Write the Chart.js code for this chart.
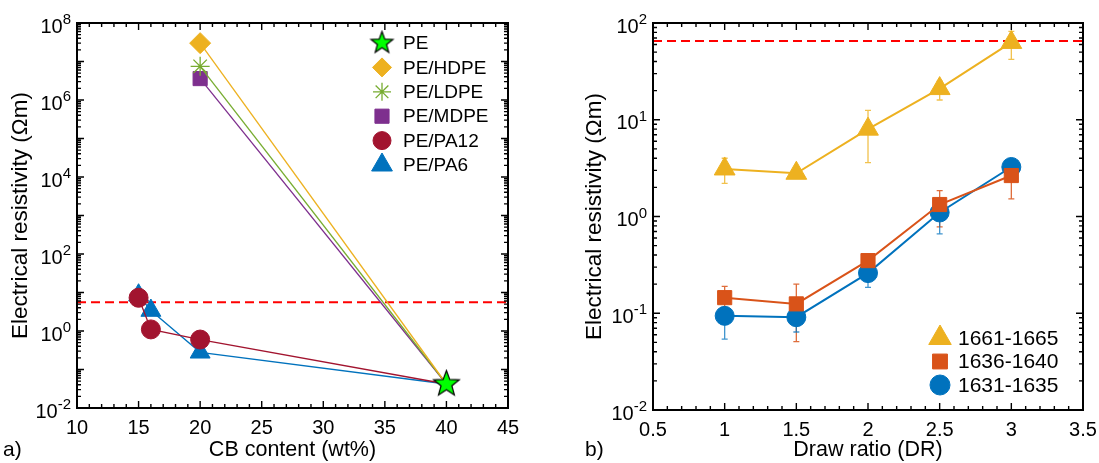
<!DOCTYPE html>
<html>
<head>
<meta charset="utf-8">
<script src="https://cdn.jsdelivr.net/npm/chart.js@4.4.1/dist/chart.umd.min.js"></script>
<style>
body{margin:0;background:#fff;width:1099px;height:463px;position:relative;overflow:hidden;font-family:"Liberation Sans",Arial,sans-serif}
#wrapA{position:absolute;left:0;top:0;width:549px;height:463px}
#wrapB{position:absolute;left:549px;top:0;width:550px;height:463px}
.tag{position:absolute;font-size:21px;color:#000}
</style>
</head>
<body>
<div id="wrapA"><canvas id="chartA" width="549" height="463"></canvas></div>
<div id="wrapB"><canvas id="chartB" width="550" height="463"></canvas></div>
<div class="tag" style="left:3px;top:437px">a)</div>
<div class="tag" style="left:585px;top:437px">b)</div>
<script>
// ---- panel a) data: CB content (wt%) vs resistivity
var peX = [40], peY = [0.042];
var hdpeX = [20], hdpeY = [3.0e7];
var ldpeX = [20], ldpeY = [7.5e6];
var mdpeX = [20], mdpeY = [3.6e6];
var pa12X = [15, 16, 20], pa12Y = [7.3, 1.1, 0.6];
var pa6X = [15, 16, 20], pa6Y = [8.5, 3.4, 0.28];
var limitA = 5.6;

// ---- panel b) data: draw ratio vs resistivity
var drawRatio = [1, 1.5, 2, 2.5, 3];
var s1661 = [3.1, 2.8, 8.0, 21, 63];
var s1661Lo = [2.2, 2.65, 3.6, 16, 42];
var s1661Hi = [4.0, 2.95, 12.5, 25, 82];
var s1636 = [0.145, 0.125, 0.35, 1.33, 2.65];
var s1636Lo = [0.093, 0.051, 0.31, 0.78, 1.52];
var s1636Hi = [0.19, 0.2, 0.39, 1.85, 3.7];
var s1631 = [0.094, 0.091, 0.26, 1.1, 3.25];
var s1631Lo = [0.054, 0.064, 0.185, 0.66, 2.9];
var s1631Hi = [0.11, 0.1, 0.3, 1.45, 3.8];
var limitB = 65;

var FONT = '"Liberation Sans", Arial, sans-serif';
var YELLOW = '#EDB120', ORANGE = '#D95319', BLUE = '#0072BD',
    PURPLE = '#7E2F8E', GREEN = '#77AC30', RED = '#A2142F';

function makeStar(r) {
    var c = document.createElement('canvas');
    var s = Math.ceil(2 * r + 4);
    c.width = s; c.height = s;
    var g = c.getContext('2d');
    g.beginPath();
    for (var i = 0; i < 10; i++) {
        var rr = i % 2 ? r * 0.42 : r;
        var ang = -Math.PI / 2 + i * Math.PI / 5;
        var px = s / 2 + rr * Math.cos(ang), py = s / 2 + rr * Math.sin(ang);
        if (i) g.lineTo(px, py); else g.moveTo(px, py);
    }
    g.closePath();
    g.fillStyle = '#00FF00';
    g.fill();
    g.lineWidth = 1.2;
    g.strokeStyle = '#000';
    g.stroke();
    return c;
}
var starBig = makeStar(13.5), starSmall = makeStar(11.5);

function pts(xs, ys) {
    return xs.map(function(x, i) { return {x: x, y: ys[i]}; });
}

// box with inward ticks on all sides + 10^n labels
var frame = {
    id: 'frame',
    afterDraw: function(chart, args, opts) {
        var ctx = chart.ctx, a = chart.chartArea, xs = chart.scales.x, ys = chart.scales.y;
        ctx.save();
        ctx.strokeStyle = '#000';
        ctx.lineWidth = 1.4;
        ctx.beginPath();
        var n = Math.round((xs.max - xs.min) / opts.xMinor);
        for (var i = 0; i <= n; i++) {
            var v = xs.min + i * opts.xMinor;
            var px = xs.getPixelForValue(v);
            var r = v / opts.xMajor;
            var len = Math.abs(r - Math.round(r)) < 1e-6 ? 7 : 4;
            ctx.moveTo(px, a.bottom); ctx.lineTo(px, a.bottom - len);
            ctx.moveTo(px, a.top); ctx.lineTo(px, a.top + len);
        }
        var e0 = Math.round(Math.log10(ys.min)), e1 = Math.round(Math.log10(ys.max));
        for (var e = e0; e <= e1; e++) {
            for (var k = 1; k <= 9; k++) {
                if (e === e1 && k > 1) break;
                var py = ys.getPixelForValue(k * Math.pow(10, e));
                var l2 = k === 1 ? 7 : 4;
                ctx.moveTo(a.left, py); ctx.lineTo(a.left + l2, py);
                ctx.moveTo(a.right, py); ctx.lineTo(a.right - l2, py);
            }
        }
        ctx.stroke();
        ctx.lineWidth = 2;
        ctx.strokeRect(a.left, a.top, a.right - a.left, a.bottom - a.top);

        ctx.fillStyle = '#000';
        ctx.textAlign = 'right';
        ctx.textBaseline = 'middle';
        for (var d = e0; d <= e1; d += opts.yLabelStep) {
            var y = ys.getPixelForValue(Math.pow(10, d));
            var es = String(d);
            ctx.font = '15px ' + FONT;
            var ew = ctx.measureText(es).width;
            ctx.fillText(es, a.left - 6, y - 3);
            ctx.font = '20px ' + FONT;
            ctx.fillText('10', a.left - 6 - ew, y + 4);
        }
        ctx.restore();
    }
};

// legend drawn inside the plot area
var boxLegend = {
    id: 'boxLegend',
    afterDraw: function(chart, args, opts) {
        var ctx = chart.ctx;
        ctx.save();
        opts.items.forEach(function(it, i) {
            var y = opts.y + i * opts.dy;
            if (it.image) {
                ctx.drawImage(it.image, opts.x - it.image.width / 2, y - it.image.height / 2);
            } else {
                ctx.fillStyle = it.color;
                ctx.strokeStyle = it.color;
                ctx.lineWidth = it.style === 'star' ? 1.3 : 1;
                Chart.helpers.drawPoint(ctx, {pointStyle: it.style, radius: it.r, rotation: 0, borderWidth: ctx.lineWidth}, opts.x, y);
            }
            ctx.fillStyle = '#000';
            ctx.font = opts.size + 'px ' + FONT;
            ctx.textAlign = 'left';
            ctx.textBaseline = 'middle';
            ctx.fillText(it.label, opts.tx, y + 1);
        });
        ctx.restore();
    }
};

// vertical error bars with caps
var errorBars = {
    id: 'errorBars',
    beforeDatasetsDraw: function(chart) {
        var ctx = chart.ctx, ys = chart.scales.y;
        ctx.save();
        chart.data.datasets.forEach(function(ds, i) {
            if (!ds.errLo) return;
            var meta = chart.getDatasetMeta(i);
            ctx.strokeStyle = ds.errColor;
            ctx.lineWidth = 1.3;
            ctx.beginPath();
            meta.data.forEach(function(p, j) {
                var yl = ys.getPixelForValue(ds.errLo[j]), yh = ys.getPixelForValue(ds.errHi[j]);
                ctx.moveTo(p.x, yl); ctx.lineTo(p.x, yh);
                ctx.moveTo(p.x - 3, yl); ctx.lineTo(p.x + 3, yl);
                ctx.moveTo(p.x - 3, yh); ctx.lineTo(p.x + 3, yh);
            });
            ctx.stroke();
        });
        ctx.restore();
    }
};

function tickFont() { return {family: FONT, size: 20, lineHeight: 1.2}; }
function titleFont(s) { return {family: FONT, size: s || 21.5, lineHeight: 1.2}; }
function plainNum(v) { return String(Math.round(v * 10) / 10); }

function seriesToPE(xs, ys, color, style, r) {
    return {
        data: pts(xs.concat(peX), ys.concat(peY)),
        borderColor: color, backgroundColor: color,
        borderWidth: 1.3, pointStyle: style,
        pointRadius: xs.map(function() { return r; }).concat([0]),
        pointBorderWidth: style === 'star' ? 1.3 : 1,
        pointHoverRadius: 0, fill: false, tension: 0
    };
}

new Chart(document.getElementById('chartA'), {
    type: 'line',
    data: {
        datasets: [
            {data: pts(peX, peY), pointStyle: starBig, pointRadius: 13, showLine: false, borderColor: '#000', backgroundColor: '#0f0'},
            seriesToPE(hdpeX, hdpeY, YELLOW, 'rectRot', 10.5),
            seriesToPE(ldpeX, ldpeY, GREEN, 'star', 9.5),
            seriesToPE(mdpeX, mdpeY, PURPLE, 'rect', 10),
            seriesToPE(pa12X, pa12Y, RED, 'circle', 9.5),
            seriesToPE(pa6X, pa6Y, BLUE, 'triangle', 11.5),
            {data: [{x: 10, y: limitA}, {x: 45, y: limitA}], borderColor: '#FF0000', borderWidth: 2, borderDash: [9, 5], pointRadius: 0}
        ]
    },
    options: {
        responsive: false, animation: false, devicePixelRatio: 1,
        layout: {padding: {left: 0, top: 23, right: 41, bottom: 0}},
        plugins: {
            legend: {display: false}, tooltip: {enabled: false},
            frame: {xMinor: 1, xMajor: 5, yLabelStep: 2},
            boxLegend: {
                x: 382, y: 43, dy: 24.4, tx: 403, size: 19,
                items: [
                    {label: 'PE', image: starSmall},
                    {label: 'PE/HDPE', color: YELLOW, style: 'rectRot', r: 9.5},
                    {label: 'PE/LDPE', color: GREEN, style: 'star', r: 9},
                    {label: 'PE/MDPE', color: PURPLE, style: 'rect', r: 10},
                    {label: 'PE/PA12', color: RED, style: 'circle', r: 9},
                    {label: 'PE/PA6', color: BLUE, style: 'triangle', r: 12}
                ]
            }
        },
        scales: {
            x: {
                type: 'linear', min: 10, max: 45,
                ticks: {stepSize: 5, padding: 0, color: '#000', font: tickFont(), callback: plainNum},
                grid: {display: false}, border: {display: false},
                title: {display: true, text: 'CB content (wt%)', color: '#000', font: titleFont(), padding: 0},
                afterFit: function(s) { s.height = 55; }
            },
            y: {
                type: 'logarithmic', min: 0.01, max: 1e8,
                ticks: {display: false},
                grid: {display: false}, border: {display: false},
                title: {display: true, text: 'Electrical resistivity (Ωm)', color: '#000', font: titleFont(22.5), padding: {top: 7, bottom: 0}},
                afterFit: function(s) { s.width = 77; }
            }
        }
    },
    plugins: [frame, boxLegend]
});

function drSeries(ys, lo, hi, color, errColor, style, r) {
    return {
        data: pts(drawRatio, ys), errLo: lo, errHi: hi, errColor: errColor,
        borderColor: color, backgroundColor: color, borderWidth: 2,
        pointStyle: style, pointRadius: r, pointBorderWidth: 1, pointHoverRadius: 0,
        fill: false, tension: 0
    };
}

new Chart(document.getElementById('chartB'), {
    type: 'line',
    data: {
        datasets: [
            drSeries(s1661, s1661Lo, s1661Hi, YELLOW, 'rgba(237,177,32,0.8)', 'triangle', 12),
            drSeries(s1636, s1636Lo, s1636Hi, ORANGE, 'rgba(217,83,25,0.85)', 'rect', 10),
            drSeries(s1631, s1631Lo, s1631Hi, BLUE, 'rgba(0,114,189,0.75)', 'circle', 9.5),
            {data: [{x: 0.5, y: limitB}, {x: 3.5, y: limitB}], borderColor: '#FF0000', borderWidth: 2, borderDash: [9, 5], pointRadius: 0}
        ]
    },
    options: {
        responsive: false, animation: false, devicePixelRatio: 1,
        layout: {padding: {left: 0, top: 23, right: 16, bottom: 0}},
        plugins: {
            legend: {display: false}, tooltip: {enabled: false},
            frame: {xMinor: 0.1, xMajor: 0.5, yLabelStep: 1},
            boxLegend: {
                x: 391, y: 338, dy: 23.5, tx: 409, size: 21,
                items: [
                    {label: '1661-1665', color: YELLOW, style: 'triangle', r: 13},
                    {label: '1636-1640', color: ORANGE, style: 'rect', r: 10.5},
                    {label: '1631-1635', color: BLUE, style: 'circle', r: 10}
                ]
            }
        },
        scales: {
            x: {
                type: 'linear', min: 0.5, max: 3.5,
                ticks: {stepSize: 0.5, padding: 0, color: '#000', font: tickFont(), callback: plainNum},
                grid: {display: false}, border: {display: false},
                title: {display: true, text: 'Draw ratio (DR)', color: '#000', font: titleFont(), padding: 0},
                afterFit: function(s) { s.height = 53; }
            },
            y: {
                type: 'logarithmic', min: 0.01, max: 100,
                ticks: {display: false},
                grid: {display: false}, border: {display: false},
                title: {display: true, text: 'Electrical resistivity (Ωm)', color: '#000', font: titleFont(22.5), padding: {top: 32, bottom: 0}},
                afterFit: function(s) { s.width = 104; }
            }
        }
    },
    plugins: [frame, boxLegend, errorBars]
});
</script>
</body>
</html>
